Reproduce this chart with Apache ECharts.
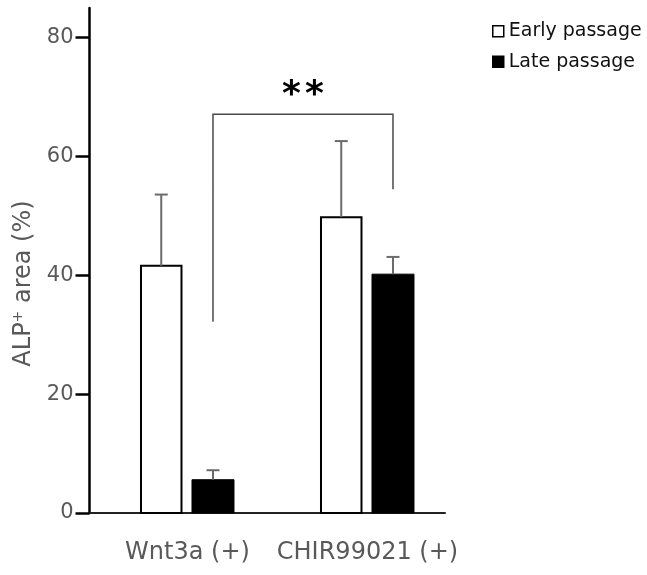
<!DOCTYPE html>
<html>
<head>
<meta charset="utf-8">
<script src="https://cdn.jsdelivr.net/npm/echarts@6/dist/echarts.min.js"></script>
<style>
  html, body { margin: 0; padding: 0; background: #fff; }
  #chart { width: 647px; height: 575px; }
</style>
</head>
<body>
<div id="chart"></div>
<script>
// Treatment groups on the x axis
const categories = ['Wnt3a (+)', 'CHIR99021 (+)'];
// ALP+ area (%) means and upper error (SD)
const earlyMean = [41.6, 49.8];
const earlySD = [12.0, 12.8];
const lateMean = [5.6, 40.2];
const lateSD = [1.6, 2.9];
// Y axis ticks
const yTicks = [0, 20, 40, 60, 80];
// Significance bracket between the two late-passage bars: [left foot, top, right foot]
const bracketValues = [32.2, 67.1, 54.5];
const bracketLabel = '**';

const FONT = '"DejaVu Sans", "Open Sans", sans-serif';
const chart = echarts.init(document.getElementById('chart'), null, { renderer: 'canvas' });

// Horizontal pixel offsets of each bar inside its group
const EARLY_OFF = -46.5, EARLY_W = 40.5;
const LATE_OFF = 4.5, LATE_W = 42;
const LATE_CENTER = LATE_OFF + LATE_W / 2;

function barRenderer(offset, width, early) {
  return function (params, api) {
    const i = api.value(0);
    const base = api.coord([i, 0]);
    const top = api.coord([i, api.value(1)]);
    const errTop = api.coord([i, api.value(1) + api.value(2)]);
    const x = base[0] + offset;
    const cx = x + width / 2;
    const children = [];
    children.push({
      type: 'rect',
      shape: { x: x, y: top[1], width: width, height: base[1] - top[1] },
      style: early ? { fill: '#fff', stroke: '#000', lineWidth: 2 } : { fill: '#000', stroke: '#000', lineWidth: 1 }
    });
    children.push({
      type: 'line',
      shape: { x1: cx, y1: top[1], x2: cx, y2: errTop[1] },
      style: { stroke: '#6b6b6b', lineWidth: 2 }
    });
    children.push({
      type: 'line',
      shape: { x1: cx - 6.5, y1: errTop[1], x2: cx + 6.5, y2: errTop[1] },
      style: { stroke: '#6b6b6b', lineWidth: 2 }
    });
    return { type: 'group', children: children };
  };
}

function bracketRenderer(params, api) {
  const lx = api.coord([api.value(0), 0])[0] + LATE_CENTER;
  const rx = api.coord([api.value(1), 0])[0] + LATE_CENTER;
  const lb = api.coord([api.value(0), api.value(2)])[1];
  const tp = api.coord([api.value(0), api.value(3)])[1];
  const rb = api.coord([api.value(1), api.value(4)])[1];
  const mid = (lx + rx) / 2;
  const stars = bracketLabel.split('');
  const children = [{
    type: 'polyline',
    shape: { points: [[lx, lb], [lx, tp], [rx, tp], [rx, rb]] },
    style: { stroke: '#4a4a4a', lineWidth: 1.5, fill: null }
  }];
  stars.forEach(function (s, k) {
    children.push({
      type: 'text',
      x: mid + (k - (stars.length - 1) / 2) * 23,
      y: tp - 19,
      style: {
        text: s, fill: '#000', font: 'bold 36px "DejaVu Sans", sans-serif',
        align: 'center', verticalAlign: 'middle'
      }
    });
  });
  return { type: 'group', children: children };
}

const option = {
  animation: false,
  backgroundColor: '#fff',
  grid: { left: 89.5, right: 202, top: 8, bottom: 62, containLabel: false },
  legend: {
    orient: 'vertical',
    left: 492,
    top: 20,
    padding: 0,
    itemWidth: 11,
    itemHeight: 11,
    itemGap: 8,
    textStyle: { fontFamily: FONT, fontSize: 19, color: '#111', lineHeight: 22.5 },
    data: [
      { name: 'Early passage', icon: 'rect', itemStyle: { color: '#fff', borderColor: '#000', borderWidth: 1.5 } },
      { name: 'Late passage', icon: 'rect', itemStyle: { color: '#000', borderColor: '#000', borderWidth: 1.5 } }
    ]
  },
  xAxis: {
    type: 'value',
    min: -0.5444,
    max: 1.4306,
    axisLine: { show: true, onZero: false, lineStyle: { color: '#222', width: 2 } },
    axisTick: { show: false },
    splitLine: { show: false },
    axisLabel: {
      customValues: [0, 1],
      formatter: function (v) { return categories[Math.round(v)]; },
      fontFamily: FONT, fontSize: 24, color: '#595959', margin: 28
    }
  },
  yAxis: {
    type: 'value',
    min: 0,
    max: 85,
    name: 'ALP{sup|+} area (%)',
    nameLocation: 'middle',
    nameGap: 51,
    nameRotate: 90,
    nameTextStyle: {
      fontFamily: FONT, fontSize: 24, color: '#595959',
      padding: [0, 46, 0, 0],
      rich: { sup: { fontFamily: FONT, fontSize: 14, color: '#595959', padding: [0, 0, 11, 0] } }
    },
    axisLine: { show: true, onZero: false, lineStyle: { color: '#000', width: 2.5 } },
    axisTick: { show: true, length: 14, customValues: yTicks, lineStyle: { color: '#000', width: 2.5 } },
    splitLine: { show: false },
    axisLabel: { customValues: yTicks, margin: 16, fontFamily: FONT, fontSize: 21, color: '#595959' }
  },
  series: [
    {
      name: 'Early passage',
      type: 'custom',
      renderItem: barRenderer(EARLY_OFF, EARLY_W, true),
      itemStyle: { color: '#fff', borderColor: '#000' },
      encode: { x: 0, y: [1, 2] },
      data: earlyMean.map(function (v, i) { return [i, v, earlySD[i]]; })
    },
    {
      name: 'Late passage',
      type: 'custom',
      renderItem: barRenderer(LATE_OFF, LATE_W, false),
      itemStyle: { color: '#000' },
      encode: { x: 0, y: [1, 2] },
      data: lateMean.map(function (v, i) { return [i, v, lateSD[i]]; })
    },
    {
      type: 'custom',
      renderItem: bracketRenderer,
      silent: true,
      encode: { x: [0, 1], y: [2, 3, 4] },
      data: [[0, 1].concat(bracketValues)]
    }
  ]
};

chart.setOption(option);
</script>
</body>
</html>
